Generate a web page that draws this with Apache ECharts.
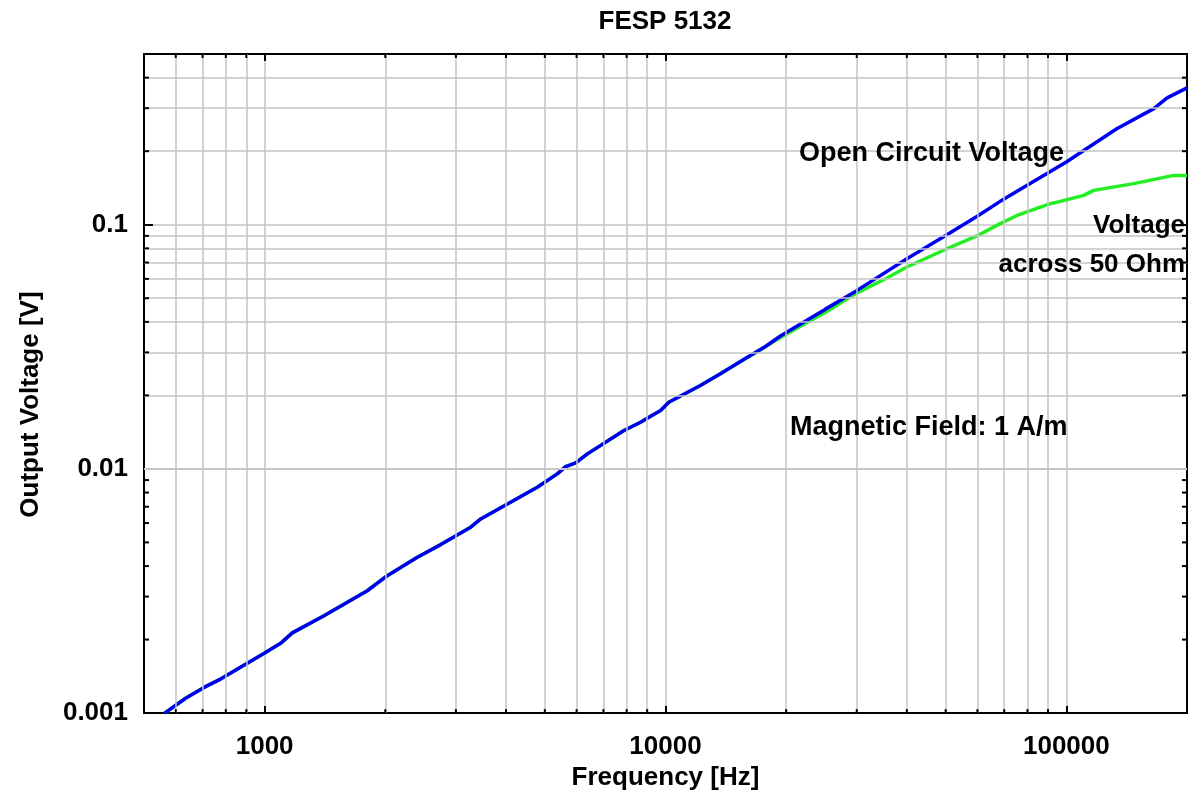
<!DOCTYPE html>
<html>
<head>
<meta charset="utf-8">
<script src="https://cdn.jsdelivr.net/npm/echarts@6/dist/echarts.min.js"></script>
<style>html,body{margin:0;padding:0;background:#fff}#c{width:1191px;height:796px}</style>
</head>
<body>
<div id="c"></div>
<script>
// ---- data ----
const titleText = 'FESP 5132';
const xName = 'Frequency [Hz]';
const yName = 'Output Voltage [V]';

const openFreq = [563, 635, 706, 776, 1000, 1096, 1172, 1406, 1803, 2022, 2404, 2749, 3266, 3460, 4787, 5370, 5634, 5970, 6385, 7876, 8668, 9181, 9724, 10190, 12220, 13710, 15670, 17750, 19350, 25000, 30060, 40020, 50350, 59800, 68400, 100000, 133600, 165300, 178400, 200000];
const openVolt = [0.001, 0.00115, 0.001274, 0.001378, 0.001762, 0.00193, 0.00213, 0.002506, 0.00317, 0.003653, 0.004344, 0.004898, 0.00577, 0.00624, 0.00841, 0.00954, 0.01022, 0.01058, 0.01152, 0.01436, 0.01553, 0.01644, 0.01734, 0.01875, 0.02196, 0.02451, 0.02805, 0.03172, 0.03499, 0.0450, 0.05382, 0.07256, 0.0910, 0.1080, 0.1246, 0.1807, 0.2473, 0.2988, 0.3306, 0.3633];

const loadFreq = [563, 635, 706, 776, 1000, 1096, 1172, 1406, 1803, 2022, 2404, 2749, 3266, 3460, 4787, 5370, 5634, 5970, 6385, 7876, 8668, 9181, 9724, 10190, 12220, 13710, 15670, 17750, 19350, 25000, 30060, 35680, 40020, 50350, 59800, 68400, 75330, 91240, 96600, 110500, 117000, 147200, 185300, 200000];
const loadVolt = [0.001, 0.00115, 0.001274, 0.001378, 0.001762, 0.00193, 0.00213, 0.002506, 0.00317, 0.003653, 0.004344, 0.004898, 0.00577, 0.00624, 0.00841, 0.00954, 0.01022, 0.01058, 0.01152, 0.01436, 0.01553, 0.01644, 0.01734, 0.01875, 0.02196, 0.02451, 0.0280, 0.0316, 0.0345, 0.0437, 0.0526, 0.0605, 0.0671, 0.0797, 0.0899, 0.1010, 0.1091, 0.1219, 0.1246, 0.1318, 0.1382, 0.1473, 0.1592, 0.1592];

const xRange = [500, 200000];
const yRange = [0.001, 0.5];
const xMinorValues = [600, 700, 800, 900, 2000, 3000, 4000, 5000, 6000, 7000, 8000, 9000, 20000, 30000, 40000, 50000, 60000, 70000, 80000, 90000];
const yMinorValues = [0.002, 0.003, 0.004, 0.005, 0.006, 0.007, 0.008, 0.009, 0.02, 0.03, 0.04, 0.05, 0.06, 0.07, 0.08, 0.09, 0.2, 0.3, 0.4];

const labelOpen = 'Open Circuit Voltage';
const labelLoad1 = 'Voltage';
const labelLoad2 = 'across 50 Ohm';
const labelField = 'Magnetic Field: 1 A/m';

// ---- chart ----
const FONT = '"Liberation Sans", Arial, sans-serif';
const GRIDC = '#c4c4c4';
const chart = echarts.init(document.getElementById('c'), null, {renderer: 'canvas'});

const boldText = {fontFamily: FONT, fontWeight: 'bold', fontSize: 26, color: '#000'};

function minorTickSeries(xAxisIndex, yAxisIndex, data, drawFn) {
  return {
    type: 'custom', xAxisIndex, yAxisIndex, silent: true, z: 5,
    data: data,
    renderItem: drawFn
  };
}

const option = {
  backgroundColor: '#fff',
  animation: false,
  title: {
    text: titleText, left: 665, top: 9, padding: 0, textAlign: 'center',
    textStyle: Object.assign({}, boldText)
  },
  grid: {left: 144, right: 4, top: 54, bottom: 82, containLabel: false},
  xAxis: [{
    type: 'log', logBase: 10, min: xRange[0], max: xRange[1], position: 'bottom',
    name: xName, nameLocation: 'middle', nameGap: 50,
    nameTextStyle: Object.assign({}, boldText),
    axisLine: {show: true, lineStyle: {color: '#000', width: 2}},
    axisTick: {show: true, inside: true, length: 7, lineStyle: {color: '#000', width: 2}},
    axisLabel: Object.assign({margin: 21, showMinLabel: false, showMaxLabel: false,
      formatter: v => String(Math.round(v))}, boldText),
    splitLine: {show: true, lineStyle: {color: GRIDC, width: 1.5}},
    minorTick: {show: false}, minorSplitLine: {show: false}
  }, {
    type: 'log', logBase: 10, min: xRange[0], max: xRange[1], position: 'top',
    axisLine: {show: true, lineStyle: {color: '#000', width: 2}},
    axisTick: {show: true, inside: true, length: 7, lineStyle: {color: '#000', width: 2}},
    axisLabel: {show: false}, splitLine: {show: false}
  }],
  yAxis: [{
    type: 'log', logBase: 10, min: yRange[0], max: yRange[1], position: 'left',
    name: yName, nameLocation: 'middle', nameGap: 100, nameRotate: 90,
    nameTextStyle: Object.assign({padding: [0, 42, 0, 0]}, boldText),
    axisLine: {show: true, lineStyle: {color: '#000', width: 2}},
    axisTick: {show: true, inside: true, length: 9, lineStyle: {color: '#000', width: 2}},
    axisLabel: Object.assign({margin: 16, showMaxLabel: false,
      formatter: v => String(+v.toPrecision(6))}, boldText),
    splitLine: {show: true, lineStyle: {color: GRIDC, width: 1.5}}
  }, {
    type: 'log', logBase: 10, min: yRange[0], max: yRange[1], position: 'right',
    axisLine: {show: true, lineStyle: {color: '#000', width: 2}},
    axisTick: {show: true, inside: true, length: 9, lineStyle: {color: '#000', width: 2}},
    axisLabel: {show: false}, splitLine: {show: false}
  }],
  series: [
    {
      name: 'minor grid', type: 'line', data: [], silent: true, z: 1,
      markLine: {
        silent: true, symbol: 'none', animation: false,
        label: {show: false},
        lineStyle: {color: GRIDC, width: 1.5, type: 'solid'},
        data: xMinorValues.map(v => ({xAxis: v})).concat(yMinorValues.map(v => ({yAxis: v})))
      }
    },
    minorTickSeries(0, 0, xMinorValues.map(v => [v, yRange[0]]), function (params, api) {
      const b = api.coord([api.value(0), yRange[0]]);
      const t = api.coord([api.value(0), yRange[1]]);
      return {type: 'group', children: [
        {type: 'line', shape: {x1: b[0], y1: b[1], x2: b[0], y2: b[1] - 4}, style: {stroke: '#000', lineWidth: 2}},
        {type: 'line', shape: {x1: t[0], y1: t[1], x2: t[0], y2: t[1] + 4}, style: {stroke: '#000', lineWidth: 2}}
      ]};
    }),
    minorTickSeries(0, 0, yMinorValues.map(v => [xRange[0], v]), function (params, api) {
      const l = api.coord([xRange[0], api.value(1)]);
      const r = api.coord([xRange[1], api.value(1)]);
      return {type: 'group', children: [
        {type: 'line', shape: {x1: l[0], y1: l[1], x2: l[0] + 5, y2: l[1]}, style: {stroke: '#000', lineWidth: 2}},
        {type: 'line', shape: {x1: r[0], y1: r[1], x2: r[0] - 5, y2: r[1]}, style: {stroke: '#000', lineWidth: 2}}
      ]};
    }),
    {
      name: 'Voltage across 50 Ohm', type: 'line', z: 3,
      data: loadFreq.map((f, i) => [f, loadVolt[i]]),
      showSymbol: false, smooth: false,
      lineStyle: {color: '#22ee22', width: 3.5}, itemStyle: {color: '#22ee22'}
    },
    {
      name: 'Open Circuit Voltage', type: 'line', z: 4,
      data: openFreq.map((f, i) => [f, openVolt[i]]),
      showSymbol: false, smooth: false,
      lineStyle: {color: '#0000f0', width: 3.5}, itemStyle: {color: '#0000f0'}
    }
  ],
  graphic: [
    {type: 'text', left: 799, top: 140, z: 10, style: {text: labelOpen, font: 'bold 27px ' + FONT, fill: '#000'}},
    {type: 'text', right: 6, top: 213, z: 10, style: {text: labelLoad1, font: 'bold 26px ' + FONT, fill: '#000'}},
    {type: 'text', right: 6, top: 252, z: 10, style: {text: labelLoad2, font: 'bold 26px ' + FONT, fill: '#000'}},
    {type: 'text', left: 790, top: 414, z: 10, style: {text: labelField, font: 'bold 27px ' + FONT, fill: '#000'}}
  ]
};
chart.setOption(option);
</script>
</body>
</html>
